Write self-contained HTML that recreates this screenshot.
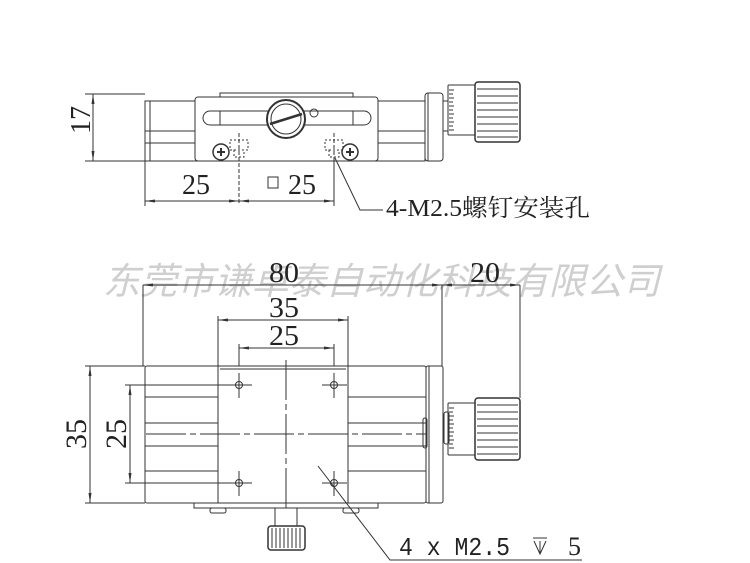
<!DOCTYPE html>
<html><head><meta charset="utf-8"><style>
html,body{margin:0;padding:0;background:#fff;}
svg{display:block;}
text{font-family:"Liberation Serif","Noto Serif CJK SC",serif;fill:#222;}
</style></head><body>
<svg width="750" height="563" viewBox="0 0 750 563" xmlns="http://www.w3.org/2000/svg">
<defs>
<marker id="a" markerWidth="10" markerHeight="6" refX="10" refY="3" orient="auto-start-reverse" markerUnits="userSpaceOnUse"><path d="M0,1.5 L10,3 L0,4.5 Z" fill="#333"/></marker>
</defs>
<text x="103" y="294" font-size="37" font-style="italic" style="fill:#cfcfcf;font-family:'Noto Sans CJK SC',sans-serif" textLength="557" lengthAdjust="spacingAndGlyphs">东莞市谦卓泰自动化科技有限公司</text>
<g stroke="#333" stroke-width="1" fill="none">
<rect x="145" y="101" width="280" height="60" fill="#fff"/>
<line x1="145" y1="131" x2="425" y2="131"/>
<line x1="145" y1="143" x2="425" y2="143"/>
<line x1="150" y1="101" x2="150" y2="161"/>
<rect x="220" y="93" width="133" height="5" fill="#fff"/>
<rect x="195" y="97" width="183" height="64" rx="3" fill="#fff"/>
<rect x="203" y="111" width="168" height="14" rx="7"/>
<line x1="220" y1="111" x2="220" y2="125"/><line x1="353" y1="111" x2="353" y2="125"/>
<circle cx="286" cy="119" r="19" fill="#fff" stroke-width="2"/>
<circle cx="286" cy="119" r="15"/>
<line x1="270" y1="124" x2="302" y2="114" stroke-width="2.5"/>
<circle cx="314" cy="113" r="4"/>
<circle cx="221" cy="152" r="8" stroke-width="1.5"/>
<path d="M217,152 h8 M221,148 v8" stroke-width="2"/>
<circle cx="350" cy="152" r="8" stroke-width="1.5"/>
<path d="M346,152 h8 M350,148 v8" stroke-width="2"/>
<rect x="230" y="140" width="18" height="10" stroke-dasharray="2,2"/>
<rect x="234" y="150" width="10" height="7" stroke-dasharray="2,2"/>
<rect x="325" y="140" width="18" height="10" stroke-dasharray="2,2"/>
<rect x="329" y="150" width="10" height="7" stroke-dasharray="2,2"/>
<line x1="239" y1="133" x2="239" y2="205" stroke-dasharray="4,2"/>
<line x1="334" y1="133" x2="334" y2="160" stroke-dasharray="4,2"/>
<rect x="425" y="93" width="18" height="68" rx="3" fill="#fff"/>
<line x1="428" y1="93" x2="428" y2="161"/>
<rect x="443" y="101" width="5" height="30"/>
<rect x="448" y="85" width="27" height="50" rx="1"/>
<path d="M449,90 h5 M449,94 h4 M449,98 h5 M449,102 h4 M449,106 h5 M449,110 h4 M449,114 h5 M449,118 h4 M449,122 h5 M449,126 h4 M449,130 h5"/>
<rect x="475" y="82" width="45" height="60" rx="3" stroke-width="1.5"/>
<path d="M477,89 h41 M477,96 h41 M477,103 h41 M477,110 h41 M477,117 h41 M477,124 h41 M477,131 h41 M477,137 h41"/>
<line x1="85" y1="94" x2="145" y2="94"/><line x1="85" y1="161" x2="145" y2="161"/>
<line x1="93" y1="94" x2="93" y2="161" marker-start="url(#a)" marker-end="url(#a)"/>
<line x1="145" y1="161" x2="145" y2="206"/><line x1="334" y1="160" x2="334" y2="206"/>
<line x1="145" y1="201" x2="239" y2="201" marker-start="url(#a)" marker-end="url(#a)"/>
<line x1="239" y1="201" x2="334" y2="201" marker-start="url(#a)" marker-end="url(#a)"/>
<rect x="268" y="177" width="10" height="11"/>
<polyline points="335,158 360,210 383,210"/>
<line x1="143" y1="285" x2="143" y2="366"/><line x1="442" y1="285" x2="442" y2="366"/><line x1="520" y1="285" x2="520" y2="398"/>
<line x1="143" y1="285" x2="442" y2="285" marker-start="url(#a)" marker-end="url(#a)"/>
<line x1="442" y1="285" x2="520" y2="285" marker-start="url(#a)" marker-end="url(#a)"/>
<line x1="218" y1="316" x2="218" y2="366"/><line x1="348" y1="316" x2="348" y2="366"/>
<line x1="218" y1="320" x2="348" y2="320" marker-start="url(#a)" marker-end="url(#a)"/>
<line x1="239" y1="344" x2="239" y2="375"/><line x1="334" y1="344" x2="334" y2="375"/>
<line x1="239" y1="348" x2="334" y2="348" marker-start="url(#a)" marker-end="url(#a)"/>
<rect x="194" y="503" width="184" height="5" fill="#fff"/>
<rect x="210" y="508" width="16" height="5" rx="2"/>
<rect x="343" y="508" width="16" height="5" rx="2"/>
<rect x="275" y="508" width="22" height="18"/>
<rect x="268" y="526" width="37" height="24" rx="3" stroke-width="1.5"/>
<path d="M272,528 v20 M276,528 v20 M280,528 v20 M284,528 v20 M288,528 v20 M292,528 v20 M296,528 v20 M300,528 v20"/>
<rect x="145" y="366" width="281" height="137" rx="2" fill="#fff"/>
<line x1="145" y1="397" x2="218" y2="397"/><line x1="348" y1="397" x2="426" y2="397"/>
<line x1="145" y1="423" x2="218" y2="423"/><line x1="348" y1="423" x2="426" y2="423"/>
<line x1="145" y1="446" x2="218" y2="446"/><line x1="348" y1="446" x2="426" y2="446"/>
<line x1="145" y1="471" x2="218" y2="471"/><line x1="348" y1="471" x2="426" y2="471"/>
<rect x="218" y="366" width="130" height="137" fill="#fff"/>
<line x1="220" y1="369" x2="346" y2="369"/>
<line x1="146" y1="434" x2="440" y2="434" stroke-dasharray="40,4,6,4"/>
<line x1="286" y1="360" x2="286" y2="510" stroke-dasharray="40,4,6,4"/>
<circle cx="239" cy="385" r="3.5"/><path d="M227,385h25M239,373v25"/>
<circle cx="334" cy="385" r="3.5"/><path d="M322,385h25M334,373v25"/>
<circle cx="239" cy="483" r="3.5"/><path d="M227,483h25M239,471v25"/>
<circle cx="334" cy="483" r="3.5"/><path d="M322,483h25M334,471v25"/>
<rect x="426" y="366" width="17" height="137" rx="2" fill="#fff"/>
<line x1="429" y1="366" x2="429" y2="503"/>
<rect x="423" y="418" width="4" height="30" rx="2"/>
<rect x="444" y="412" width="5" height="32" rx="2"/>
<rect x="448" y="403" width="27" height="52" rx="1"/>
<path d="M449,408 h5 M449,412 h4 M449,416 h5 M449,420 h4 M449,424 h5 M449,428 h4 M449,432 h5 M449,436 h4 M449,440 h5 M449,444 h4 M449,448 h5"/>
<rect x="475" y="398" width="45" height="62" rx="3" stroke-width="1.5"/>
<path d="M477,405 h41 M477,412 h41 M477,419 h41 M477,426 h41 M477,433 h41 M477,440 h41 M477,447 h41 M477,454 h41"/>
<line x1="85" y1="366" x2="145" y2="366"/><line x1="85" y1="503" x2="145" y2="503"/>
<line x1="90" y1="366" x2="90" y2="503" marker-start="url(#a)" marker-end="url(#a)"/>
<line x1="125" y1="385" x2="227" y2="385"/><line x1="125" y1="483" x2="227" y2="483"/>
<line x1="130" y1="385" x2="130" y2="483" marker-start="url(#a)" marker-end="url(#a)"/>
<polyline points="318,466 390,560 582,560"/>
<path d="M533,538 h14 M534,541 l6,13 l6,-13 M540,541 v13"/>
</g>
<text x="81" y="120" font-size="28" text-anchor="middle" transform="rotate(-90 81 120) translate(0 9)" textLength="28" lengthAdjust="spacingAndGlyphs">17</text>
<text x="196" y="194" font-size="28" text-anchor="middle" textLength="28" lengthAdjust="spacingAndGlyphs">25</text>
<text x="302" y="194" font-size="28" text-anchor="middle" textLength="28" lengthAdjust="spacingAndGlyphs">25</text>
<text x="386" y="216" font-size="24" textLength="204" lengthAdjust="spacingAndGlyphs">4-M2.5螺钉安装孔</text>
<text x="284" y="282" font-size="28" text-anchor="middle" textLength="30" lengthAdjust="spacingAndGlyphs">80</text>
<text x="485" y="282" font-size="28" text-anchor="middle" textLength="30" lengthAdjust="spacingAndGlyphs">20</text>
<text x="284" y="317" font-size="28" text-anchor="middle" textLength="30" lengthAdjust="spacingAndGlyphs">35</text>
<text x="284" y="345" font-size="28" text-anchor="middle" textLength="30" lengthAdjust="spacingAndGlyphs">25</text>
<text x="76" y="434" font-size="30" text-anchor="middle" transform="rotate(-90 76 434) translate(0 10)" textLength="30" lengthAdjust="spacingAndGlyphs">35</text>
<text x="116" y="434" font-size="30" text-anchor="middle" transform="rotate(-90 116 434) translate(0 10)" textLength="30" lengthAdjust="spacingAndGlyphs">25</text>
<text x="399" y="555" font-size="26" style="font-family:'Liberation Mono',monospace" textLength="111" lengthAdjust="spacingAndGlyphs">4 x M2.5</text>
<text x="568" y="555" font-size="26">5</text>
</svg>
</body></html>
